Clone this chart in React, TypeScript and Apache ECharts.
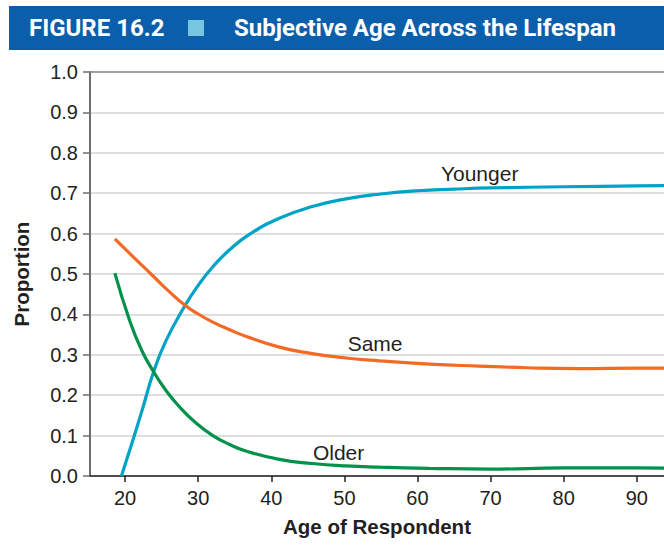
import React, { useEffect, useRef } from "react";
import * as echarts from "echarts";

const ageYounger = [19.5, 21.0, 22.4, 23.9, 25.6, 28.1, 30, 32, 34.3, 37.0, 41.1, 45.6, 50.2, 55, 60, 65, 70, 80, 90, 95];
const younger = [0.0, 0.085, 0.167, 0.258, 0.335, 0.419, 0.472, 0.518, 0.56, 0.598, 0.638, 0.667, 0.686, 0.698, 0.706, 0.71, 0.713, 0.716, 0.718, 0.719];

const ageSame = [18.6, 20, 22, 24, 26, 28.1, 30, 32.0, 34.3, 36.5, 41.1, 45.6, 50.2, 54.8, 61.6, 68.4, 75, 82, 90, 95];
const same = [0.587, 0.562, 0.527, 0.492, 0.457, 0.424, 0.401, 0.381, 0.362, 0.346, 0.319, 0.303, 0.292, 0.285, 0.277, 0.272, 0.268, 0.266, 0.267, 0.267];

const ageOlder = [18.6, 20.6, 22.3, 23.9, 25.5, 27.4, 29.7, 32.0, 34.3, 36.5, 41.1, 45.6, 50.2, 54.8, 61.6, 70, 80, 90, 95];
const older = [0.502, 0.386, 0.31, 0.258, 0.214, 0.172, 0.131, 0.1, 0.078, 0.062, 0.041, 0.031, 0.025, 0.022, 0.019, 0.017, 0.02, 0.02, 0.019];

const xTicks = [20, 30, 40, 50, 60, 70, 80, 90];

const seriesNames = ["Younger", "Same", "Older"];
const labelPos: [number, number][] = [[68.5, 0.75], [54.2, 0.329], [49.2, 0.059]];

const zip = (a: number[], b: number[]) => a.map((v, i) => [v, b[i]]);

export default function App() {
  const ref = useRef<HTMLDivElement>(null);
  useEffect(() => {
    if (!ref.current) return;
    const chart = echarts.init(ref.current, undefined, { renderer: "svg" });
    const txt = "#231f20";
    const font = "Liberation Sans, Arial, sans-serif";
    const colors = ["#00a3c8", "#f26a24", "#00914a"];
    const datas = [zip(ageYounger, younger), zip(ageSame, same), zip(ageOlder, older)];
    chart.setOption({
      animation: false,
      backgroundColor: "#ffffff",
      grid: { left: 90, right: 0, top: 72, bottom: 81 },
      xAxis: {
        type: "value",
        min: 15.2,
        max: 93.72,
        name: "Age of Respondent",
        nameLocation: "middle",
        nameGap: 40,
        nameTextStyle: { fontSize: 20.5, fontWeight: "bold", color: txt, fontFamily: font },
        axisLine: { show: true, onZero: false, lineStyle: { color: "#231f20", width: 1.5 } },
        axisTick: { show: true, customValues: xTicks, length: 6, lineStyle: { color: "#231f20", width: 1.5 } },
        axisLabel: { customValues: xTicks, fontSize: 20, color: txt, fontFamily: font, margin: 12 },
        splitLine: { show: false },
      },
      yAxis: {
        type: "value",
        min: 0,
        max: 1,
        interval: 0.1,
        name: "Proportion",
        nameLocation: "middle",
        nameGap: 58,
        nameTextStyle: { fontSize: 20.5, fontWeight: "bold", color: txt, fontFamily: font },
        axisLine: { show: true, lineStyle: { color: "#6d6e71", width: 2 } },
        axisTick: { show: true, length: 7, lineStyle: { color: "#6d6e71", width: 1.5 } },
        axisLabel: { fontSize: 20, color: txt, fontFamily: font, margin: 12, formatter: (v: number) => v.toFixed(1) },
        splitLine: { show: true, lineStyle: { color: "#d2d3d5", width: 1.5 } },
      },
      graphic: [
        { type: "rect", shape: { x: 9, y: 6, width: 655, height: 44 }, style: { fill: "#0b5eaa" } },
        { type: "text", x: 29, y: 28, style: { text: "FIGURE 16.2", fill: "#ffffff", font: "bold 24px 'Liberation Sans Narrow', 'Roboto', sans-serif", verticalAlign: "middle" } },
        { type: "rect", shape: { x: 188, y: 20, width: 16, height: 16 }, style: { fill: "#75c6de" } },
        { type: "text", x: 234, y: 28, style: { text: "Subjective Age Across the Lifespan", fill: "#ffffff", font: "bold 24px 'Liberation Sans Narrow', 'Roboto', sans-serif", verticalAlign: "middle" } },
      ],
      series: datas.map((d, i) => ({
        type: "line",
        name: seriesNames[i],
        data: d,
        smooth: 0.5,
        showSymbol: false,
        symbol: "none",
        lineStyle: { color: colors[i], width: 3.2 },
        markLine: i === 0 ? {
          silent: true,
          symbol: "none",
          label: { show: false },
          lineStyle: { color: "#888a8c", width: 1.5, type: "solid" },
          data: [{ yAxis: 1 }],
        } : undefined,
        markPoint: {
          symbol: "circle",
          symbolSize: 0,
          silent: true,
          label: { show: true, formatter: seriesNames[i], fontSize: 21, color: txt, fontFamily: font, position: "inside" },
          data: [{ coord: labelPos[i] }],
        },
      })),
    });
    return () => chart.dispose();
  }, []);
  return <div ref={ref} style={{ position: "absolute", left: 0, top: 0, width: 664, height: 557 }} />;
}
